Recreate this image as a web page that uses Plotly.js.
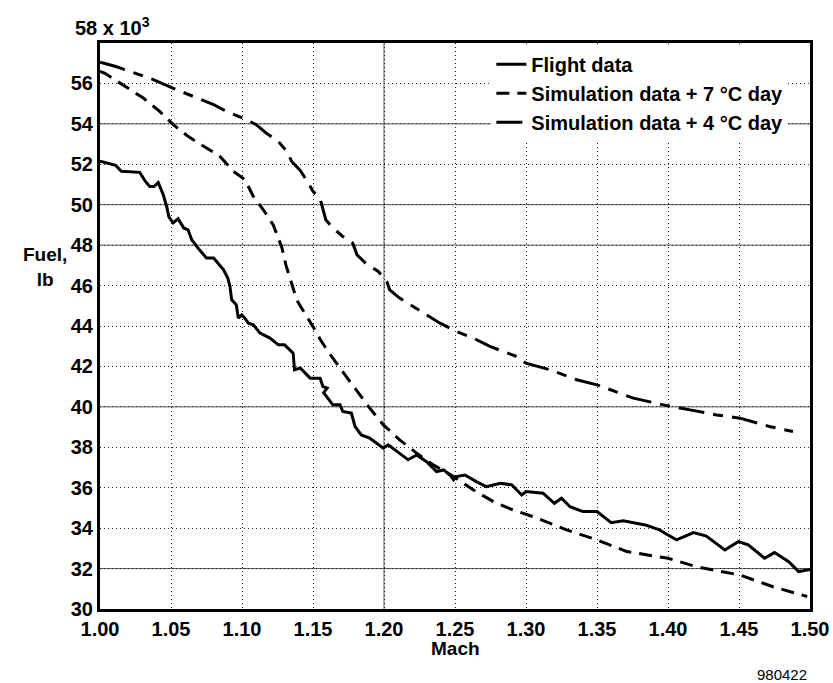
<!DOCTYPE html>
<html>
<head>
<meta charset="utf-8">
<script src="https://cdn.plot.ly/plotly-3.0.1.min.js"></script>
<style>
html,body{margin:0;padding:0;background:#fff;}
#chart{width:833px;height:683px;}
</style>
</head>
<body>
<div id="chart"></div>
<script>
// ---- Data ----
const flightMach = [1.000,1.006,1.011,1.015,1.028,1.032,1.035,1.038,1.041,1.0445,1.047,1.0485,1.0515,1.055,1.059,1.062,1.0646,1.069,1.075,1.080,1.087,1.090,1.0915,1.0927,1.096,1.0974,1.0998,1.102,1.1045,1.108,1.1127,1.1197,1.1256,1.130,1.136,1.137,1.141,1.148,1.155,1.157,1.160,1.1575,1.164,1.169,1.171,1.177,1.1796,1.184,1.190,1.1995,1.203,1.211,1.217,1.223,1.230,1.237,1.242,1.2465,1.249,1.251,1.257,1.265,1.272,1.282,1.290,1.297,1.300,1.312,1.320,1.325,1.331,1.340,1.350,1.360,1.3685,1.384,1.394,1.400,1.406,1.418,1.427,1.440,1.4495,1.4565,1.468,1.475,1.485,1.492,1.500];
const flightFuel = [52.15,52.05,51.95,51.65,51.6,51.15,50.9,50.9,51.1,50.5,49.9,49.4,49.1,49.3,48.85,48.76,48.27,47.86,47.36,47.36,46.78,46.37,45.96,45.3,45.05,44.39,44.55,44.39,44.14,44.06,43.65,43.4,43.07,43.07,42.66,41.83,41.92,41.42,41.42,41.0,40.93,40.7,40.1,40.1,39.77,39.69,39.03,38.61,38.45,37.96,38.12,37.7,37.38,37.62,37.29,36.8,36.88,36.63,36.39,36.55,36.63,36.3,36.05,36.22,36.14,35.64,35.81,35.73,35.23,35.48,35.06,34.82,34.82,34.27,34.37,34.16,33.91,33.66,33.42,33.78,33.61,32.92,33.33,33.17,32.51,32.79,32.34,31.85,31.95];

const sim7Mach = [1.000,1.0035,1.012,1.021,1.0305,1.042,1.0516,1.062,1.0727,1.0845,1.094,1.102,1.108,1.115,1.122,1.128,1.131,1.135,1.1385,1.144,1.150,1.156,1.162,1.170,1.1796,1.189,1.1995,1.211,1.223,1.2347,1.249,1.263,1.277,1.291,1.305,1.3286,1.350,1.371,1.400,1.420,1.4507,1.474,1.498];
const sim7Fuel = [56.6,56.5,56.11,55.69,55.28,54.62,53.96,53.38,52.89,52.39,51.65,51.24,50.41,49.75,49.0,47.9,47.0,46.04,45.3,44.64,43.97,43.23,42.6,41.83,40.93,40.02,39.11,38.37,37.71,37.13,36.55,35.89,35.31,34.9,34.57,33.91,33.42,32.84,32.51,32.09,31.68,31.1,30.62];

const sim4Mach = [1.000,1.0106,1.021,1.0375,1.054,1.0657,1.080,1.089,1.103,1.110,1.117,1.1256,1.1315,1.135,1.141,1.1467,1.150,1.155,1.157,1.159,1.164,1.171,1.178,1.181,1.187,1.196,1.202,1.204,1.211,1.2206,1.230,1.2394,1.251,1.263,1.2746,1.2934,1.300,1.317,1.3357,1.350,1.3756,1.400,1.4155,1.4343,1.4507,1.472,1.488];
const sim4Fuel = [57.05,56.85,56.6,56.19,55.69,55.36,54.95,54.62,54.21,53.96,53.55,53.13,52.64,52.14,51.7,51.07,50.66,50.3,49.8,49.26,48.85,48.43,48.1,47.52,47.11,46.7,46.2,45.79,45.38,44.97,44.55,44.14,43.73,43.4,42.99,42.49,42.16,41.83,41.34,41.09,40.43,40.05,39.85,39.6,39.44,39.02,38.78];

const seriesNames = ["Flight data", "Simulation data + 7 °C day", "Simulation data + 4 °C day"];
const xTickVals = [1.00,1.05,1.10,1.15,1.20,1.25,1.30,1.35,1.40,1.45,1.50];
const xTickText = ["1.00","1.05","1.10","1.15","1.20","1.25","1.30","1.35","1.40","1.45","1.50"];
const yTickVals = [30,32,34,36,38,40,42,44,46,48,50,52,54,56];
const solidGridY = [32,40,48,50,54];
const solidGridX = [1.20];

// ---- Styles ----
const FONT = "Liberation Sans, Arial, Helvetica, sans-serif";
const black = "#000";

const traces = [
  {x: flightMach, y: flightFuel, name: seriesNames[0], type: "scatter", mode: "lines",
   line: {color: black, width: 3}},
  {x: sim7Mach, y: sim7Fuel, name: seriesNames[1], type: "scatter", mode: "lines",
   line: {color: black, width: 3, dash: "13px,8px"}},
  {x: sim4Mach, y: sim4Fuel, name: seriesNames[2], type: "scatter", mode: "lines",
   line: {color: black, width: 3, dash: "26px,9px,10px,9px"}}
];

const shapes = [];
solidGridY.forEach(v => shapes.push({type: "line", xref: "paper", x0: 0, x1: 1, yref: "y", y0: v, y1: v,
  line: {color: "#555", width: 1}, layer: "below"}));
solidGridX.forEach(v => shapes.push({type: "line", yref: "paper", y0: 0, y1: 1, xref: "x", x0: v, x1: v,
  line: {color: "#555", width: 1}, layer: "below"}));

const layout = {
  width: 833, height: 683,
  margin: {l: 100, r: 23, t: 43, b: 74, pad: 0},
  paper_bgcolor: "#fff", plot_bgcolor: "#fff",
  font: {family: FONT, color: black, size: 20},
  showlegend: true,
  legend: {x: 0.9695, xanchor: "right", y: 0.997, yanchor: "top",
    bgcolor: "#fff", borderwidth: 0,
    font: {family: FONT, size: 20, weight: "bold", color: black},
    tracegroupgap: 0},
  xaxis: {range: [1.0, 1.5], tickvals: xTickVals, ticktext: xTickText,
    showline: true, mirror: true, linecolor: black, linewidth: 3,
    showgrid: true, gridcolor: "#222", gridwidth: 1, griddash: "1px,3px",
    ticks: "", zeroline: false,
    tickfont: {family: FONT, size: 20, weight: "bold", color: black}},
  yaxis: {range: [30, 58], tickvals: yTickVals,
    showline: true, mirror: true, linecolor: black, linewidth: 3,
    showgrid: true, gridcolor: "#222", gridwidth: 1, griddash: "1px,3px",
    ticks: "", zeroline: false,
    tickfont: {family: FONT, size: 20, weight: "bold", color: black}},
  shapes: shapes,
  annotations: [
    {text: "58 x 10<sup>3</sup>", xref: "paper", yref: "paper", x: -0.038, y: 1.03,
     xanchor: "left", yanchor: "middle", showarrow: false,
     font: {family: FONT, size: 20, weight: "bold", color: black}},
    {text: "Fuel,<br>lb", xref: "paper", yref: "paper", x: -0.078, y: 0.605,
     xanchor: "center", yanchor: "middle", align: "center", showarrow: false,
     font: {family: FONT, size: 19, weight: "bold", color: black}},
    {text: "Mach", xref: "paper", yref: "paper", x: 0.5, y: -0.069,
     xanchor: "center", yanchor: "middle", showarrow: false,
     font: {family: FONT, size: 19, weight: "bold", color: black}},
    {text: "980422", xref: "paper", yref: "paper", x: 0.96, y: -0.115,
     xanchor: "center", yanchor: "middle", showarrow: false,
     font: {family: FONT, size: 15, color: black}}
  ]
};

Plotly.newPlot("chart", traces, layout, {displayModeBar: false, staticPlot: true});
</script>
</body>
</html>
